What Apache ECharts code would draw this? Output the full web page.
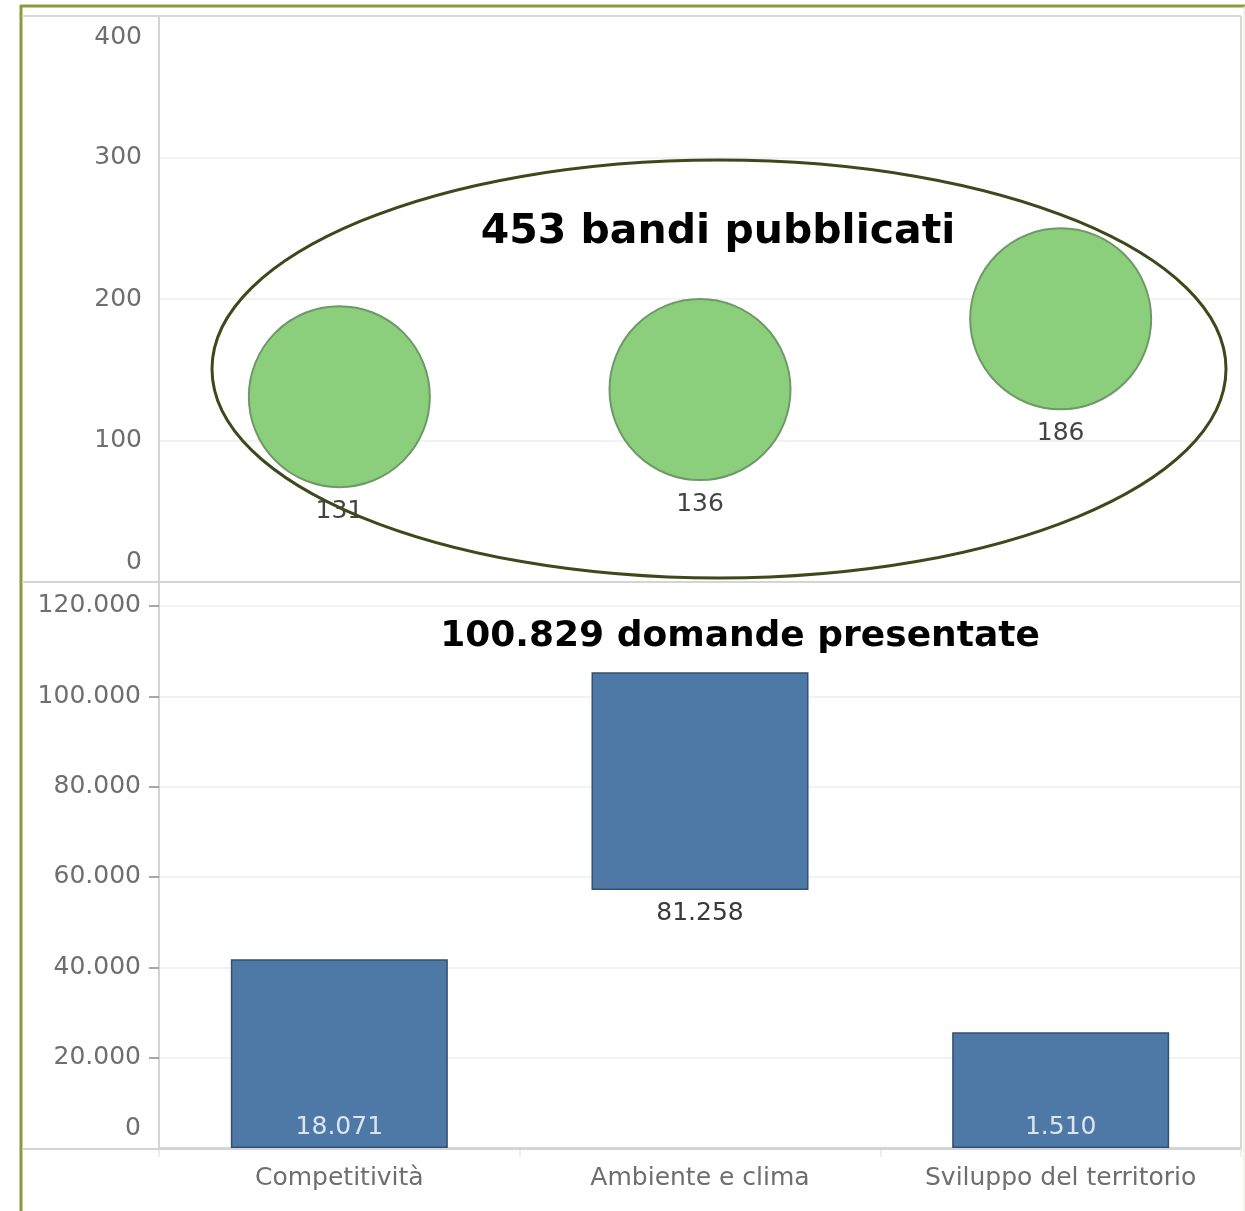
<!DOCTYPE html>
<html><head><meta charset="utf-8">
<script src="https://cdn.jsdelivr.net/npm/echarts@6/dist/echarts.min.js"></script>
<style>html,body{margin:0;padding:0;background:#fff}#c{width:1245px;height:1211px}</style>
</head><body><div id="c"></div>
<script>
const categories = ['Competitività', 'Ambiente e clima', 'Sviluppo del territorio'];
const bandiValues = [131, 136, 186];
const domandeLabels = [18071, 81258, 1510];
const barStart = [0, 57100, 0];
const barEnd = [41800, 105300, 25600];
const bandiTicks = [0, 100, 200, 300, 400];
const domandeTicks = [0, 20000, 40000, 60000, 80000, 100000, 120000];
const titleBandi = '453 bandi pubblicati';
const titleDomande = '100.829 domande presentate';

function fmt(v) { return String(v).replace(/\B(?=(\d{3})+(?!\d))/g, '.'); }

const FONT = 'DejaVu Sans';
const AX = '#6e6e6e';
const lbl = { fontFamily: FONT, fontSize: 25, color: AX };

const chart = echarts.init(document.getElementById('c'), null, { renderer: 'canvas' });

const barData = barEnd.map((e, i) => ({
  value: e - barStart[i],
  label: i === 1
    ? { position: 'bottom', color: '#3a3a3a', distance: 11 }
    : { position: 'insideBottom', color: '#dce5ef', distance: 8 }
}));

chart.setOption({
  animation: false,
  grid: [
    { left: 159, right: 4, top: 16, height: 566 },
    { left: 159, right: 4, top: 582, bottom: 63 }
  ],
  xAxis: [
    { type: 'category', gridIndex: 0, data: categories,
      axisLine: { show: false }, axisTick: { show: false }, axisLabel: { show: false } },
    { type: 'category', gridIndex: 1, data: categories,
      axisLine: { show: true, lineStyle: { color: '#d4d4d4', width: 2 } },
      axisTick: { show: true, length: 9, lineStyle: { color: '#e8e8e8', width: 1.5 } },
      axisLabel: Object.assign({ margin: 18 }, lbl) }
  ],
  yAxis: [
    { type: 'value', gridIndex: 0, min: 0, max: 400, interval: 100,
      axisLine: { show: true, lineStyle: { color: '#d4d4d4', width: 2 } },
      axisTick: { show: false },
      splitLine: { lineStyle: { color: '#eeeeee', width: 1.5 } },
      axisLabel: Object.assign({ margin: 17, customValues: bandiTicks,
        formatter: v => v === 400 ? '{mx|400}' : (v === 0 ? '{mn|0}' : String(v)),
        rich: {
          mx: { fontFamily: FONT, fontSize: 25, color: AX, padding: [42, 0, 0, 0] },
          mn: { fontFamily: FONT, fontSize: 25, color: AX, padding: [0, 0, 40, 0] }
        } }, lbl) },
    { type: 'value', gridIndex: 1, min: 0, max: 125300, interval: 20000,
      axisLine: { show: true, lineStyle: { color: '#d4d4d4', width: 2 } },
      axisTick: { show: true, length: 10, lineStyle: { color: '#8a8a8a', width: 1.5 }, customValues: domandeTicks.slice(1) },
      splitLine: { lineStyle: { color: '#eeeeee', width: 1.5 } },
      axisLabel: Object.assign({ margin: 18, customValues: domandeTicks,
        formatter: v => v === 0 ? '{mn|0}' : fmt(v),
        rich: { mn: { fontFamily: FONT, fontSize: 25, color: AX, padding: [0, 0, 40, 0] } } }, lbl) }
  ],
  series: [
    { type: 'scatter', xAxisIndex: 0, yAxisIndex: 0, data: bandiValues, symbolSize: 181,
      itemStyle: { color: '#8bcf7c', borderColor: '#6f9868', borderWidth: 2, opacity: 1 },
      label: { show: true, position: 'bottom', distance: 11, fontFamily: FONT, fontSize: 25, color: '#444' } },
    { type: 'bar', xAxisIndex: 1, yAxisIndex: 1, stack: 'd', data: barStart, barWidth: 217,
      itemStyle: { color: 'rgba(0,0,0,0)' }, silent: true },
    { type: 'bar', xAxisIndex: 1, yAxisIndex: 1, stack: 'd', data: barData, barWidth: 217,
      itemStyle: { color: '#4e79a7', borderColor: '#34506f', borderWidth: 1.5 },
      label: { show: true, fontFamily: FONT, fontSize: 25, formatter: p => fmt(domandeLabels[p.dataIndex]) } }
  ],
  graphic: [
    { type: 'line', shape: { x1: 21, y1: 5, x2: 21, y2: 1211 }, style: { stroke: '#8a9b3c', lineWidth: 3 }, z: 50 },
    { type: 'line', shape: { x1: 20, y1: 6, x2: 1245, y2: 6 }, style: { stroke: '#8a9b3c', lineWidth: 3 }, z: 50 },
    { type: 'line', shape: { x1: 1244, y1: 6, x2: 1244, y2: 1211 }, style: { stroke: '#e6ead5', lineWidth: 1 }, z: 50 },
    { type: 'line', shape: { x1: 22, y1: 16, x2: 1241, y2: 16 }, style: { stroke: '#d8d8d8', lineWidth: 2 }, z: 50 },
    { type: 'line', shape: { x1: 22, y1: 582, x2: 1241, y2: 582 }, style: { stroke: '#d4d4d4', lineWidth: 2 }, z: 50 },
    { type: 'line', shape: { x1: 22, y1: 1149, x2: 1241, y2: 1149 }, style: { stroke: '#d4d4d4', lineWidth: 2 }, z: 50 },
    { type: 'line', shape: { x1: 1241, y1: 16, x2: 1241, y2: 1149 }, style: { stroke: '#d8d8d8', lineWidth: 2 }, z: 50 },
    { type: 'ellipse', shape: { cx: 719, cy: 369, rx: 507, ry: 209 },
      style: { fill: 'none', stroke: '#3c4a1b', lineWidth: 3 }, z: 100 },
    { type: 'text', x: 718, y: 232, z: 100,
      style: { text: titleBandi, font: 'bold 41px "DejaVu Sans"', fill: '#000', textAlign: 'center', textVerticalAlign: 'middle' } },
    { type: 'text', x: 740, y: 637, z: 100,
      style: { text: titleDomande, font: 'bold 36px "DejaVu Sans"', fill: '#000', textAlign: 'center', textVerticalAlign: 'middle' } }
  ]
});
</script></body></html>
